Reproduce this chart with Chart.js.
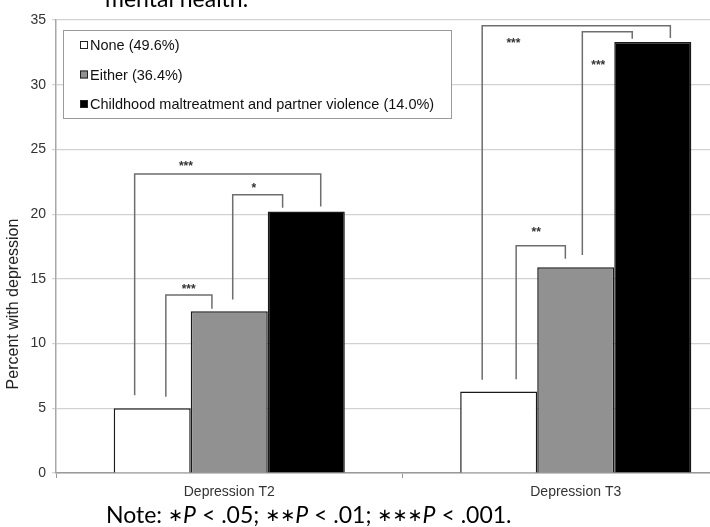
<!DOCTYPE html>
<html>
<head>
<meta charset="utf-8">
<script src="https://cdn.jsdelivr.net/npm/chart.js@4"></script>
<style>
  html, body { margin: 0; padding: 0; background: #fff; overflow: hidden; }
  #wrap { width: 760px; height: 527px; position: relative; }
</style>
</head>
<body>
<div id="wrap"><canvas id="barChart"></canvas></div>
<script>
// Dados
const categories = ['Depression T2', 'Depression T3'];
const seriesNames = ['None (49.6%)', 'Either (36.4%)', 'Childhood maltreatment and partner violence (14.0%)'];
const noneValues = [5.0, 6.3];
const eitherValues = [12.5, 15.9];
const bothValues = [20.2, 33.3];
const seriesColors = ['#ffffff', '#919191', '#000000'];
const yMax = 35;
const yStep = 5;
const yTitle = 'Percent with depression';

// Colchetes de significância: categoria, pernas (fração da categoria), topo e pés em %
const bracketCat = [0, 0, 0, 1, 1, 1];
const bracketLeft = [-0.273, -0.183, 0.010, -0.270, -0.172, 0.019];
const bracketRight = [0.264, -0.050, 0.154, 0.273, -0.030, 0.163];
const bracketTop = [23.1, 13.75, 21.5, 34.55, 17.55, 34.1];
const bracketLeftFoot = [6.0, 5.9, 13.4, 7.2, 7.25, 16.85];
const bracketRightFoot = [20.6, 12.7, 20.5, 33.6, 16.55, 33.55];
const bracketLabel = ['***', '***', '*', '***', '**', '***'];
const labelX = [-0.125, -0.117, 0.071, -0.18, -0.114, 0.065];
const labelY = [24.0, 14.5, 22.3, 33.5, 18.9, 31.8];

const noteParts = [['Note: ', 'n'], ['\u2217', 's'], ['P', 'i'], [' < .05; ', 'n'], ['\u2217\u2217', 's'], ['P', 'i'],
  [' < .01; ', 'n'], ['\u2217\u2217\u2217', 's'], ['P', 'i'], [' < .001.', 'n']];

const arial = '"Liberation Sans", Arial, sans-serif';
const body = 'Lato, "Open Sans", sans-serif';

const extras = {
  id: 'extras',
  afterDatasetsDraw(chart) {
    const ctx = chart.ctx;
    const x = chart.scales.x, y = chart.scales.y;
    const catW = (x.right - x.left) / categories.length;

    // legenda dentro do gráfico
    ctx.save();
    ctx.fillStyle = '#fff';
    ctx.fillRect(63, 30, 388, 88);
    ctx.strokeStyle = '#9a9a9a';
    ctx.lineWidth = 1;
    ctx.strokeRect(63.5, 30.5, 388, 88);
    ctx.font = '14.5px ' + arial;
    ctx.textBaseline = 'middle';
    seriesNames.forEach((name, i) => {
      const cy = 45 + i * 29.5;
      ctx.fillStyle = seriesColors[i];
      ctx.fillRect(80, cy - 4, 8, 8);
      ctx.strokeStyle = '#222';
      ctx.lineWidth = 1;
      ctx.strokeRect(80.5, cy - 3.5, 7, 7);
      ctx.fillStyle = '#111';
      ctx.fillText(name, 90, cy + 1);
    });

    // colchetes
    ctx.strokeStyle = '#6e6e6e';
    ctx.lineWidth = 1.5;
    bracketCat.forEach((c, i) => {
      const cx = x.getPixelForValue(c);
      const xl = cx + bracketLeft[i] * catW;
      const xr = cx + bracketRight[i] * catW;
      ctx.beginPath();
      ctx.moveTo(xl, y.getPixelForValue(bracketLeftFoot[i]));
      ctx.lineTo(xl, y.getPixelForValue(bracketTop[i]));
      ctx.lineTo(xr, y.getPixelForValue(bracketTop[i]));
      ctx.lineTo(xr, y.getPixelForValue(bracketRightFoot[i]));
      ctx.stroke();
      ctx.fillStyle = '#333';
      ctx.font = 'bold 12px ' + arial;
      ctx.textAlign = 'center';
      ctx.textBaseline = 'middle';
      ctx.fillText(bracketLabel[i], cx + labelX[i] * catW, y.getPixelForValue(labelY[i]) + 4);
    });
    ctx.restore();
  },
  afterDraw(chart) {
    const ctx = chart.ctx;
    ctx.save();
    // título do eixo y (deslocado para baixo como no original)
    ctx.translate(14, 304);
    ctx.rotate(-Math.PI / 2);
    ctx.fillStyle = '#222';
    ctx.font = '16px ' + arial;
    ctx.textAlign = 'center';
    ctx.textBaseline = 'middle';
    ctx.fillText(yTitle, 0, 0);
    ctx.restore();

    ctx.save();
    ctx.fillStyle = '#000';
    ctx.textBaseline = 'alphabetic';
    ctx.textAlign = 'left';
    ctx.font = '23px ' + body;
    ctx.fillText('mental health.', 105, 7);
    let px = 106;
    noteParts.forEach(([t, kind]) => {
      if (kind === 's') {
        ctx.font = '18px "DejaVu Sans", sans-serif';
        ctx.fillText(t, px, 521);
      } else {
        ctx.font = (kind === 'i' ? 'italic ' : '') + '23px ' + body;
        ctx.fillText(t, px, 523);
      }
      px += ctx.measureText(t).width;
    });
    ctx.restore();
  }
};

new Chart(document.getElementById('barChart'), {
  type: 'bar',
  data: {
    labels: categories,
    datasets: [
      { label: seriesNames[0], data: noneValues, backgroundColor: seriesColors[0] },
      { label: seriesNames[1], data: eitherValues, backgroundColor: seriesColors[1] },
      { label: seriesNames[2], data: bothValues, backgroundColor: seriesColors[2] }
    ].map(d => Object.assign(d, { borderColor: '#1a1a1a', borderWidth: 1.5, borderSkipped: 'bottom' }))
  },
  options: {
    responsive: true,
    maintainAspectRatio: false,
    animation: false,
    devicePixelRatio: 1,
    layout: { padding: { left: 0, right: 11, top: 20, bottom: 0 } },
    datasets: { bar: { categoryPercentage: 0.667, barPercentage: 1.0 } },
    scales: {
      x: {
        grid: { offset: true, drawOnChartArea: false, tickLength: 5, color: '#9a9a9a' },
        border: { color: '#9a9a9a', width: 1.5 },
        ticks: { color: '#333', padding: 6, font: { size: 14, family: arial } },
        afterFit(scale) { scale.height = 54; }
      },
      y: {
        min: 0,
        max: yMax,
        ticks: { stepSize: yStep, color: '#333', padding: 6, font: { size: 14, family: arial } },
        grid: { color: '#d2d2d2', tickLength: 4, lineWidth: 1.2 },
        border: { color: '#a8a8a8', width: 1.5 },
        afterFit(scale) { scale.width = 56; }
      }
    },
    plugins: {
      legend: { display: false },
      tooltip: { enabled: false }
    }
  },
  plugins: [extras]
});
</script>
</body>
</html>
